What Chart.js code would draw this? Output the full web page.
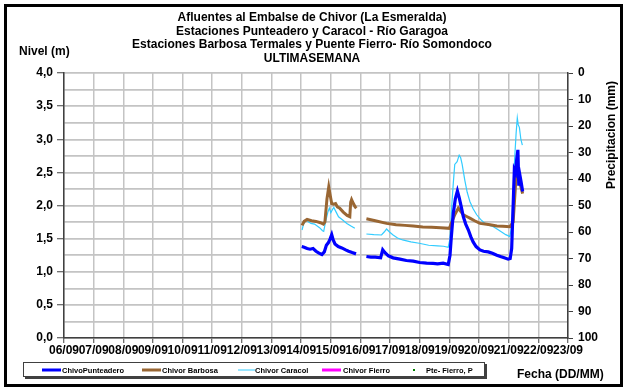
<!DOCTYPE html>
<html>
<head>
<meta charset="utf-8">
<script src="https://cdn.jsdelivr.net/npm/chart.js@4/dist/chart.umd.min.js"></script>
<style>
html,body{margin:0;padding:0;background:#fff;}
canvas{display:block;background:#fff;}
</style>
</head>
<body>
<canvas id="c" width="627" height="390"></canvas>
<script>
// ---- Data (x = day of September) ----
const titleLines = [
  "Afluentes al Embalse de Chivor (La Esmeralda)",
  "Estaciones Punteadero y Caracol - Río Garagoa",
  "Estaciones Barbosa Termales y Puente Fierro- Río Somondoco",
  "ULTIMASEMANA"
];
const tickLabels = ["06/09","07/09","08/09","09/09","10/09","11/09","12/09","13/09","14/09","15/09","16/09","17/09","18/09","19/09","20/09","21/09","22/09","23/09"];
const levelTicks = ["0,0","0,5","1,0","1,5","2,0","2,5","3,0","3,5","4,0"];
const seriesNames = ["ChivoPunteadero","Chivor Barbosa","Chivor Caracol","Chivor Fierro","Pte- Fierro, P"];

const punteaderoDays = [14.02,14.1,14.2,14.3,14.4,14.5,14.6,14.7,14.78,14.85,14.92,14.98,15.03,15.08,15.14,15.25,15.37,15.5,15.6,15.72,15.85,16.0,
  16.2,16.35,16.5,16.68,16.75,16.82,16.94,17.1,17.33,17.55,17.78,18.0,18.23,18.45,18.6,18.79,18.96,19.02,19.06,19.13,19.2,19.27,19.33,19.4,19.47,19.55,19.64,19.72,19.8,19.9,20.03,20.15,20.31,20.45,20.6,20.72,20.85,20.98,21.05,21.1,21.15,21.19,21.23,21.27,21.31,21.34,21.38,21.42,21.47];
const punteaderoLevels = [1.38,1.37,1.35,1.34,1.35,1.31,1.28,1.26,1.30,1.40,1.44,1.50,1.56,1.48,1.42,1.38,1.36,1.33,1.31,1.29,1.27,null,
  1.23,1.22,1.22,1.21,1.33,1.29,1.24,1.21,1.19,1.17,1.16,1.14,1.13,1.125,1.12,1.13,1.11,1.25,1.5,1.88,2.1,2.22,2.12,1.98,1.83,1.72,1.63,1.53,1.45,1.38,1.33,1.31,1.30,1.28,1.25,1.23,1.21,1.19,1.20,1.35,2.0,2.54,2.5,2.7,2.84,2.3,2.45,2.35,2.21];

const barbosaDays = [14.03,14.1,14.2,14.35,14.5,14.65,14.75,14.8,14.87,14.93,14.98,15.03,15.1,15.16,15.22,15.3,15.42,15.55,15.64,15.67,15.7,15.76,15.82,15.86,16.0,
  16.2,16.5,16.88,17.2,17.5,17.78,18.1,18.4,18.7,19.0,19.08,19.18,19.3,19.38,19.47,19.6,19.69,19.85,20.03,20.2,20.37,20.6,20.8,21.04,21.15,21.2,21.24,21.29,21.34,21.4,21.47];
const barbosaLevels = [1.70,1.76,1.79,1.77,1.76,1.74,1.72,1.75,2.1,2.28,2.15,2.03,2.02,2.03,1.98,1.96,1.90,1.85,1.83,2.05,2.09,2.03,1.98,1.96,null,
  1.80,1.77,1.73,1.71,1.70,1.69,1.675,1.67,1.665,1.655,1.75,1.86,1.96,1.91,1.86,1.83,1.81,1.77,1.73,1.72,1.71,1.69,1.685,1.68,1.75,2.1,2.38,2.48,2.4,2.3,2.18];

const caracolDays = [14.03,14.08,14.17,14.25,14.33,14.45,14.62,14.72,14.76,14.82,14.9,14.95,15.0,15.07,15.1,15.18,15.26,15.4,15.54,15.68,15.81,16.0,
  16.2,16.45,16.71,16.8,16.88,16.98,17.1,17.25,17.42,17.7,17.98,18.3,18.6,18.8,18.96,19.02,19.08,19.13,19.18,19.26,19.33,19.38,19.43,19.52,19.6,19.69,19.8,19.92,20.05,20.2,20.35,20.48,20.62,20.76,20.9,21.04,21.1,21.15,21.2,21.25,21.29,21.32,21.36,21.41,21.46];
const caracolLevels = [1.63,1.72,1.78,1.75,1.73,1.72,1.665,1.62,1.61,1.75,1.9,1.96,1.89,1.95,1.97,1.90,1.83,1.78,1.73,1.69,1.655,null,
  1.57,1.56,1.555,1.6,1.645,1.6,1.555,1.51,1.48,1.45,1.43,1.40,1.39,1.385,1.37,1.5,2.0,2.33,2.62,2.66,2.76,2.72,2.62,2.38,2.2,2.06,1.95,1.86,1.79,1.73,1.70,1.68,1.64,1.60,1.56,1.53,1.7,2.2,2.7,3.09,3.32,3.22,3.18,3.0,2.91];

const fierroDays = [];
const fierroLevels = [];
const precipDays = [];
const precipValues = [];

function pts(xs, ys){ return xs.map((x,i)=>({x:x, y:ys[i]})); }

const FONT = "'Liberation Sans', Arial, sans-serif";
Chart.defaults.font.family = FONT;
Chart.defaults.font.weight = 'bold';
Chart.defaults.font.size = 12;
Chart.defaults.color = '#000';

const colors = ['#0000FF','#996633','#33CCFF','#FF00FF','#008000'];

const decor = {
  id:'decor',
  afterDraw(chart){
    const c = chart.ctx;
    const y = chart.scales.y, a = chart.chartArea;
    // horizontal level grid, placed underneath everything already drawn
    c.save();
    c.globalCompositeOperation='destination-over';
    c.strokeStyle='#c4c4c4';
    c.lineWidth=1.5;
    y.ticks.forEach(t=>{
      const py = Math.round(y.getPixelForValue(t.value)-0.75)+0.75;
      c.beginPath();c.moveTo(a.left,py);c.lineTo(a.right,py);c.stroke();
    });
    c.restore();

    c.save();
    // title
    c.fillStyle='#000';
    c.textAlign='center';
    c.textBaseline='middle';
    c.font = "bold 12px " + FONT;
    const ty=[18,32,45,59];
    titleLines.forEach((t,i)=>c.fillText(t,312,ty[i]));
    // axis titles
    c.textAlign='left';
    c.fillText("Nivel (m)",19,52);
    c.fillText("Fecha (DD/MM)",517,375);
    c.save();
    c.translate(612,135);
    c.rotate(-Math.PI/2);
    c.textAlign='center';
    c.fillText("Precipitacion (mm)",0,0);
    c.restore();
    // legend box (with shadow)
    c.fillStyle='#404040';
    c.fillRect(25,364,462,15);
    c.fillStyle='#fff';
    c.fillRect(24,362,461,15);
    c.strokeStyle='#404040';
    c.lineWidth=1;
    c.strokeRect(23.5,362.5,461,14);
    c.font = "bold 7.5px " + FONT;
    c.textAlign='left';
    const items = [
      {x1:42,x2:61,tx:62,w:3},
      {x1:142,x2:161,tx:162,w:3},
      {x1:238,x2:255,tx:255,w:1},
      {x1:322,x2:341,tx:343,w:3},
      {x1:null,dot:414,tx:426}
    ];
    items.forEach((it,i)=>{
      if(it.x1!==null){
        c.strokeStyle=colors[i];
        c.lineWidth=it.w;
        c.beginPath();c.moveTo(it.x1,370);c.lineTo(it.x2,370);c.stroke();
      } else {
        c.fillStyle=colors[i];
        c.fillRect(it.dot-1,369,2,2);
      }
      c.fillStyle='#000';
      c.fillText(seriesNames[i],it.tx,370.5);
    });
    // outer frame
    c.strokeStyle='#000';
    c.lineWidth=3;
    c.strokeRect(5.5,5.5,616,380);
    c.restore();
  }
};

function stepTicks(min,max,step){
  const out=[];
  const n=Math.round((max-min)/step);
  for(let i=0;i<=n;i++) out.push({value:min+i*step});
  return out;
}

new Chart(document.getElementById('c'),{
  type:'line',
  data:{
    datasets:[
      {label:seriesNames[0],data:pts(punteaderoDays,punteaderoLevels),borderColor:colors[0],borderWidth:3.2,pointRadius:0,yAxisID:'y'},
      {label:seriesNames[1],data:pts(barbosaDays,barbosaLevels),borderColor:colors[1],borderWidth:3,pointRadius:0,yAxisID:'y'},
      {label:seriesNames[2],data:pts(caracolDays,caracolLevels),borderColor:colors[2],borderWidth:1.2,pointRadius:0,yAxisID:'y'},
      {label:seriesNames[3],data:pts(fierroDays,fierroLevels),borderColor:colors[3],borderWidth:3,pointRadius:0,yAxisID:'y'},
      {label:seriesNames[4],data:pts(precipDays,precipValues),borderColor:colors[4],backgroundColor:colors[4],showLine:false,pointRadius:1,yAxisID:'y2'}
    ]
  },
  options:{
    responsive:false,
    animation:false,
    devicePixelRatio:1,
    spanGaps:false,
    layout:{padding:{top:73,left:0,right:0,bottom:0}},
    plugins:{legend:{display:false},title:{display:false},tooltip:{enabled:false}},
    scales:{
      x:{
        type:'linear',min:6,max:23,
        afterFit(s){s.height=52;},
        afterBuildTicks(s){s.ticks=stepTicks(6,23,1);},
        ticks:{autoSkip:false,maxRotation:0,padding:0,font:{size:12,weight:'bold'},
          callback:(v)=>tickLabels[Math.round(v-6)]},
        grid:{color:'#c4c4c4',lineWidth:1.5,tickLength:5,tickColor:'#404040',tickWidth:1},
        border:{color:'#404040',width:1.5}
      },
      y:{
        position:'left',min:0,max:4,
        afterFit(s){s.width=64;},
        afterBuildTicks(s){s.ticks=stepTicks(0,4,0.25);},
        ticks:{autoSkip:false,padding:4,
          callback:(v)=>{const k=Math.round(v*4);return k%2===0?levelTicks[k/2]:' ';}},
        grid:{color:'#c4c4c4',lineWidth:1.5,tickLength:7,tickWidth:1,
          tickColor:(ctx)=>{const k=Math.round(ctx.tick.value*4);return k%2===0?'#404040':'rgba(0,0,0,0)';}},
        border:{color:'#404040',width:1.5}
      },
      y2:{
        position:'right',min:0,max:100,reverse:true,
        afterFit(s){s.width=59;},
        afterBuildTicks(s){s.ticks=stepTicks(0,100,10);},
        ticks:{autoSkip:false,padding:5},
        grid:{drawOnChartArea:false,tickLength:5,tickColor:'#404040',tickWidth:1},
        border:{color:'#404040',width:1.5}
      }
    }
  },
  plugins:[decor]
});
</script>
</body>
</html>
